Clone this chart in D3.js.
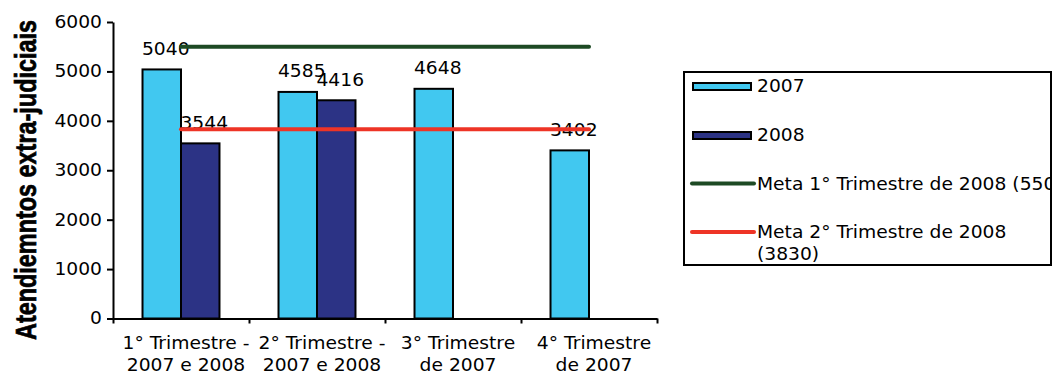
<!DOCTYPE html>
<html>
<head>
<meta charset="utf-8">
<script src="https://cdn.jsdelivr.net/npm/d3@7"></script>
<style>
  html, body { margin: 0; padding: 0; background: #fff; }
  svg { display: block; }
  text { font-family: "DejaVu Sans", Verdana, sans-serif; fill: #000; }
</style>
</head>
<body>
<svg id="chart" width="1054" height="373"></svg>
<script>
// Quarterly counts of extra-judicial services, 2007 vs 2008, with two targets
const categoryLines = [
  ["1° Trimestre -", "2007 e 2008"],
  ["2° Trimestre -", "2007 e 2008"],
  ["3° Trimestre", "de 2007"],
  ["4° Trimestre", "de 2007"]
];
const seriesNames = ["2007", "2008"];
const values2007 = [5040, 4585, 4648, 3402];
const values2008 = [3544, 4416, null, null];
const meta1 = 5500;
const meta2 = 3830;
const yTicks = [0, 1000, 2000, 3000, 4000, 5000, 6000];
const legendLabels = [
  ["2007"],
  ["2008"],
  ["Meta 1° Trimestre de 2008 (5500)"],
  ["Meta 2° Trimestre de 2008", "(3830)"]
];
const yTitle = "Atendiemntos extra-judiciais";

const colors = { "2007": "#41c8f0", "2008": "#2c3385", meta1: "#1d4a24", meta2: "#ee3426" };
const FS = 17;            // base font size
const STRETCH = "scale(1.1,1)"; // wide lettering

const svg = d3.select("#chart");
const plotL = 113, plotR = 657, plotB = 318.5, plotT = 22;

const x = d3.scaleBand().domain(d3.range(categoryLines.length))
  .range([plotL, plotR]).paddingInner(0.434).paddingOuter(0.217);
const xs = d3.scaleBand().domain(seriesNames).range([0, x.bandwidth()]);
const y = d3.scaleLinear().domain([0, 6000]).range([plotB, plotT]);

const rows = categoryLines.map((_, i) => ({ i, "2007": values2007[i], "2008": values2008[i] }));

// Bars
const groups = svg.append("g").selectAll("g").data(rows).join("g")
  .attr("transform", d => `translate(${x(d.i)},0)`);
groups.selectAll("rect")
  .data(d => seriesNames.filter(s => d[s] != null).map(s => ({ s, v: d[s] })))
  .join("rect")
  .attr("x", d => xs(d.s))
  .attr("y", d => y(d.v))
  .attr("width", xs.bandwidth())
  .attr("height", d => plotB - y(d.v))
  .attr("fill", d => colors[d.s])
  .attr("stroke", "#000")
  .attr("stroke-width", 2);

// Value labels
const labels = [];
rows.forEach(d => seriesNames.forEach(s => {
  if (d[s] != null) labels.push({ cx: x(d.i) + xs(s) + xs.bandwidth() / 2, v: d[s] });
}));
svg.append("g").selectAll("g").data(labels).join("g")
  .attr("transform", d => `translate(${d.cx + 4},${y(d.v) - 14.5})`)
  .append("text")
  .attr("transform", STRETCH)
  .attr("text-anchor", "middle")
  .attr("font-size", FS)
  .text(d => d.v);

// Target lines from first to last category centre
const centre = i => x(i) + x.bandwidth() / 2;
const lastI = categoryLines.length - 1;
[[meta1, colors.meta1], [meta2, colors.meta2]].forEach(([v, c]) => {
  svg.append("line")
    .attr("x1", centre(0)).attr("x2", centre(lastI))
    .attr("y1", y(v)).attr("y2", y(v))
    .attr("stroke", c).attr("stroke-width", 4).attr("stroke-linecap", "round");
});

// Y axis
const yAxis = svg.append("g").attr("transform", `translate(${plotL},0)`)
  .call(d3.axisLeft(y).tickValues(yTicks).tickSize(6).tickSizeOuter(0).tickPadding(4).tickFormat(d3.format("d")));
yAxis.attr("font-size", FS).attr("font-family", null);
yAxis.selectAll(".tick text").attr("transform", STRETCH);
yAxis.selectAll("path, line").attr("stroke", "#000").attr("stroke-width", 2);

// X axis line with ticks between categories
const xb = d3.scaleLinear().domain([0, categoryLines.length]).range([plotL, plotR]);
const xAxis = svg.append("g").attr("transform", `translate(0,${plotB})`)
  .call(d3.axisBottom(xb).tickValues(d3.range(categoryLines.length + 1)).tickSize(5).tickSizeOuter(0).tickFormat(""));
xAxis.selectAll("path, line").attr("stroke", "#000").attr("stroke-width", 2);

// Category labels (two lines each)
const xLab = svg.append("g").attr("transform", `translate(0,${plotB})`)
  .call(d3.axisBottom(x).tickSize(0).tickFormat(""));
xLab.select(".domain").remove();
xLab.attr("font-size", FS).attr("font-family", null);
xLab.selectAll(".tick text").each(function (i) {
  const t = d3.select(this).attr("y", null).attr("dy", null)
    .attr("transform", "translate(5,0) " + STRETCH);
  categoryLines[i].forEach((line, k) => {
    t.append("tspan").attr("x", 0).attr("y", 30.5 + k * 22.2).text(line);
  });
});

// Y title (heavy, condensed)
svg.append("text")
  .attr("transform", "translate(36,180) rotate(-90)")
  .attr("text-anchor", "middle")
  .style("font-family", "'Liberation Sans Narrow','Liberation Sans',Arial,sans-serif")
  .attr("font-weight", "bold")
  .attr("font-size", 29)
  .attr("stroke", "#000")
  .attr("stroke-width", 0.7)
  .attr("textLength", 320)
  .attr("lengthAdjust", "spacingAndGlyphs")
  .text(yTitle);

// Legend
const lg = { x: 684, y: 72, w: 367, h: 193 };
svg.append("defs").append("clipPath").attr("id", "legend-clip")
  .append("rect").attr("x", lg.x).attr("y", lg.y).attr("width", lg.w - 1).attr("height", lg.h);
const legend = svg.append("g");
legend.append("rect")
  .attr("x", lg.x).attr("y", lg.y).attr("width", lg.w).attr("height", lg.h)
  .attr("fill", "#fff").attr("stroke", "#000").attr("stroke-width", 2);
const baselines = [92, 141, 189.5, 238];
const legendKinds = [
  { type: "bar", color: colors["2007"] },
  { type: "bar", color: colors["2008"] },
  { type: "line", color: colors.meta1 },
  { type: "line", color: colors.meta2 }
];
const items = legend.append("g").attr("clip-path", "url(#legend-clip)");
legendLabels.forEach((lines, k) => {
  const b = baselines[k];
  const kind = legendKinds[k];
  if (kind.type === "bar") {
    items.append("rect").attr("x", 693).attr("y", b - 9).attr("width", 58).attr("height", 7)
      .attr("fill", kind.color).attr("stroke", "#000").attr("stroke-width", 2);
  } else {
    items.append("line").attr("x1", 692).attr("x2", 754).attr("y1", b - 6).attr("y2", b - 6)
      .attr("stroke", kind.color).attr("stroke-width", 4).attr("stroke-linecap", "round");
  }
  lines.forEach((line, j) => {
    items.append("g").attr("transform", `translate(757,${b + j * 22})`)
      .append("text").attr("transform", STRETCH).attr("font-size", FS).text(line);
  });
});
</script>
</body>
</html>
